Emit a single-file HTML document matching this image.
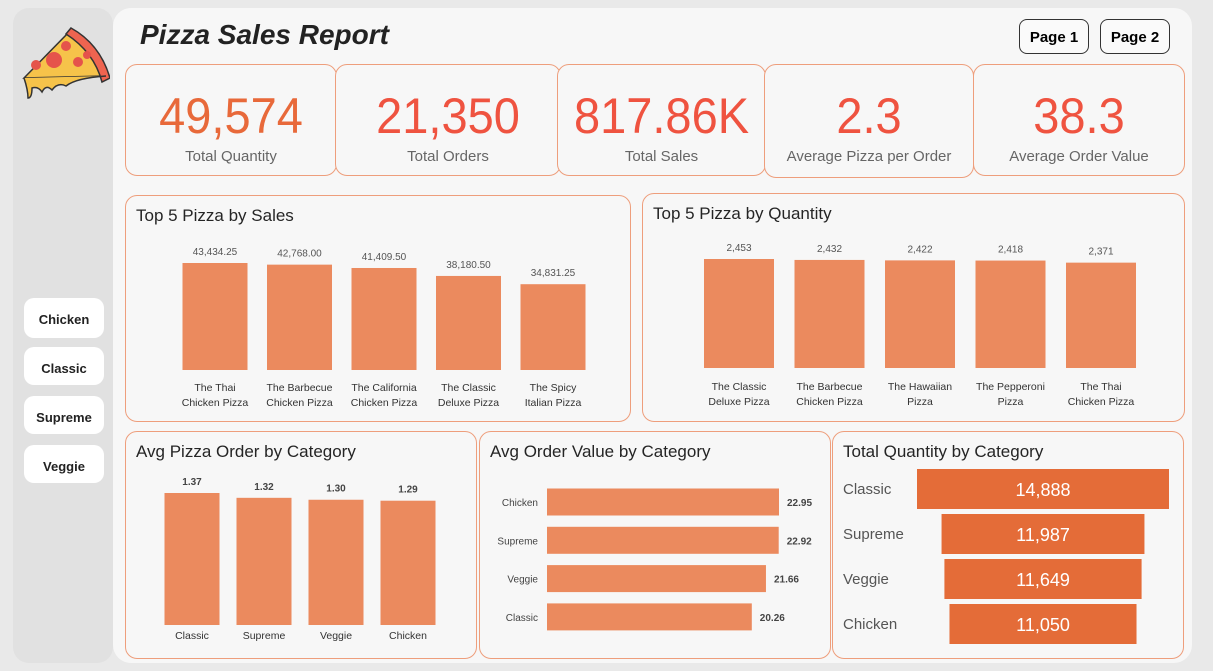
<!DOCTYPE html>
<html><head><meta charset="utf-8"><style>
*{box-sizing:border-box;margin:0;padding:0}
body{width:1213px;height:671px;background:#e9e9e9;font-family:"Liberation Sans",sans-serif;position:relative;overflow:hidden}
.abs{position:absolute}
.card{position:absolute;border:1px solid #ee9e7c;border-radius:12px;background:#f7f7f7}
.kn{position:absolute;left:0;right:0;top:22px;text-align:center;font-size:50px;color:#ef5340;letter-spacing:0px;transform:scaleX(0.94)}
.kl{position:absolute;left:0;right:0;top:83px;text-align:center;font-size:15px;color:#666}
.ct{position:absolute;left:10px;top:10px;font-size:17px;color:#252525}
.btn{position:absolute;background:#fff;border-radius:10px;text-align:center;font-size:13px;font-weight:bold;color:#222}
.pg{position:absolute;border:1px solid #333;border-radius:8px;background:#fafafa;font-size:15px;font-weight:bold;text-align:center;line-height:36px}
svg text{font-family:"Liberation Sans",sans-serif}
</style></head><body>
<div class="abs" style="left:13px;top:8px;width:100px;height:655px;background:#e1e1e1;border-radius:16px"></div>
<svg class="abs" style="left:16px;top:20px" width="94" height="82" viewBox="0 0 94 82">
<path d="M8 58 L55 10 Q80 25 90 56 Z" fill="#f6c34a" stroke="#333" stroke-width="1.5"/>
<path d="M55 8 Q84 24 94 58 L86 62 Q78 32 50 14 Z" fill="#ee6450" stroke="#333" stroke-width="1.5"/>
<path d="M8 58 Q12 70 12 78 Q16 78 16 68 Q22 66 26 72 Q30 64 36 70 Q42 62 50 66 Q60 58 90 56" fill="#f6c34a" stroke="#333" stroke-width="1.5"/>
<circle cx="38" cy="40" r="8" fill="#e5534b"/><circle cx="50" cy="26" r="5" fill="#e5534b"/><circle cx="20" cy="45" r="5" fill="#e5534b"/><circle cx="62" cy="42" r="5" fill="#e5534b"/><circle cx="71" cy="35" r="4" fill="#e5534b"/>
</svg>
<div class="btn" style="left:24px;top:298px;width:80px;height:40px;line-height:44px">Chicken</div>
<div class="btn" style="left:24px;top:347px;width:80px;height:38px;line-height:44px">Classic</div>
<div class="btn" style="left:24px;top:396px;width:80px;height:38px;line-height:44px">Supreme</div>
<div class="btn" style="left:24px;top:445px;width:80px;height:38px;line-height:44px">Veggie</div>

<div class="abs" style="left:113px;top:8px;width:1079px;height:655px;background:#f7f7f7;border-radius:18px"></div>
<div class="abs" style="left:140px;top:19px;font-size:28px;font-weight:bold;font-style:italic;color:#222">Pizza Sales Report</div>
<div class="pg" style="left:1019px;top:19px;width:70px;height:35px">Page 1</div>
<div class="pg" style="left:1100px;top:19px;width:70px;height:35px">Page 2</div>

<div class="card" style="left:125px;top:64px;width:212px;height:112px"><div class="kn" style="color:#e8693a">49,574</div><div class="kl">Total Quantity</div></div>
<div class="card" style="left:335px;top:64px;width:226px;height:112px"><div class="kn">21,350</div><div class="kl">Total Orders</div></div>
<div class="card" style="left:557px;top:64px;width:209px;height:112px"><div class="kn">817.86K</div><div class="kl">Total Sales</div></div>
<div class="card" style="left:764px;top:64px;width:210px;height:114px"><div class="kn">2.3</div><div class="kl">Average Pizza per Order</div></div>
<div class="card" style="left:973px;top:64px;width:212px;height:112px"><div class="kn">38.3</div><div class="kl">Average Order Value</div></div>

<div class="card" style="left:125px;top:195px;width:506px;height:227px"><div class="ct">Top 5 Pizza by Sales</div><svg id="c1" class="abs" style="left:0;top:0" width="506" height="227"></svg></div>
<div class="card" style="left:642px;top:193px;width:543px;height:229px"><div class="ct">Top 5 Pizza by Quantity</div><svg id="c2" class="abs" style="left:0;top:0" width="543" height="229"></svg></div>
<div class="card" style="left:125px;top:431px;width:352px;height:228px"><div class="ct">Avg Pizza Order by Category</div><svg id="c3" class="abs" style="left:0;top:0" width="352" height="228"></svg></div>
<div class="card" style="left:479px;top:431px;width:352px;height:228px"><div class="ct">Avg Order Value by Category</div><svg id="c4" class="abs" style="left:0;top:0" width="352" height="228"></svg></div>
<div class="card" style="left:832px;top:431px;width:352px;height:228px"><div class="ct">Total Quantity by Category</div><svg id="c5" class="abs" style="left:0;top:0" width="352" height="228"></svg></div>

<script>
const salesNames=[["The Thai","Chicken Pizza"],["The Barbecue","Chicken Pizza"],["The California","Chicken Pizza"],["The Classic","Deluxe Pizza"],["The Spicy","Italian Pizza"]];
const salesValues=[43434.25,42768.00,41409.50,38180.50,34831.25];
const qtyNames=[["The Classic","Deluxe Pizza"],["The Barbecue","Chicken Pizza"],["The Hawaiian","Pizza"],["The Pepperoni","Pizza"],["The Thai","Chicken Pizza"]];
const qtyValues=[2453,2432,2422,2418,2371];
const catAvgNames=["Classic","Supreme","Veggie","Chicken"];
const catAvgValues=[1.37,1.32,1.30,1.29];
const aovNames=["Chicken","Supreme","Veggie","Classic"];
const aovValues=[22.95,22.92,21.66,20.26];
const funnelNames=["Classic","Supreme","Veggie","Chicken"];
const funnelValues=[14888,11987,11649,11050];
const NS="http://www.w3.org/2000/svg";
function mk(svg,tag,attrs,txt){const e=document.createElementNS(NS,tag);for(const k in attrs)e.setAttribute(k,attrs[k]);if(txt!==undefined)e.textContent=txt;svg.appendChild(e);return e;}
function vbars(id,names,vals,x0,step,bw,base,h,fmt,lblY,valStyle){
 const s=document.getElementById(id);const mx=Math.max(...vals);
 names.forEach((n,i)=>{const bh=vals[i]/mx*h;const cx=x0+i*step;
  const r=mk(s,'rect',{x:cx-bw/2,y:base-bh,width:bw,height:bh,fill:'#eb8a5e'});
  
  
  mk(s,'text',Object.assign({x:cx,y:base-bh-8,'text-anchor':'middle','font-size':10,fill:'#555'},valStyle||{}),fmt(vals[i]));
  const lines=Array.isArray(n)?n:[n];
  lines.forEach((l,j)=>mk(s,'text',{x:cx,y:lblY+j*15,'text-anchor':'middle','font-size':10.5,fill:'#333'},l));
 });
}
const f2=v=>v.toLocaleString('en-US',{minimumFractionDigits:2,maximumFractionDigits:2});
const f0=v=>v.toLocaleString('en-US');
vbars('c1',salesNames,salesValues,89,84.5,65,174,107,f2,195);
vbars('c2',qtyNames,qtyValues,96,90.5,70,174,109,f0,196);
vbars('c3',catAvgNames,catAvgValues,66,72,55,193,132,v=>v.toFixed(2),207,{'font-weight':'bold','fill':'#444'});
(function(){const s=document.getElementById('c4');const mx=Math.max(...aovValues);
 aovNames.forEach((n,i)=>{const cy=70+i*38.3;const w=aovValues[i]/mx*232;
  const r=mk(s,'rect',{x:67,y:cy-13.5,width:w,height:27,fill:'#eb8a5e'});
  
  
  mk(s,'text',{x:58,y:cy+4,'text-anchor':'end','font-size':10,fill:'#444'},n);
  mk(s,'text',{x:67+w+8,y:cy+4,'font-size':10,'font-weight':'bold',fill:'#444'},aovValues[i].toFixed(2));
 });})();
(function(){const s=document.getElementById('c5');const mx=Math.max(...funnelValues);
 funnelNames.forEach((n,i)=>{const cy=57+i*45;const w=funnelValues[i]/mx*252;
  const r=mk(s,'rect',{x:210-w/2,y:cy-20,width:w,height:40,fill:'#e46c38'});
  
  
  mk(s,'text',{x:10,y:cy+5,'font-size':15,fill:'#555'},n);
  mk(s,'text',{x:210,y:cy+7,'text-anchor':'middle','font-size':18,fill:'#fff'},f0(funnelValues[i]));
 });})();
</script>
</body></html>
